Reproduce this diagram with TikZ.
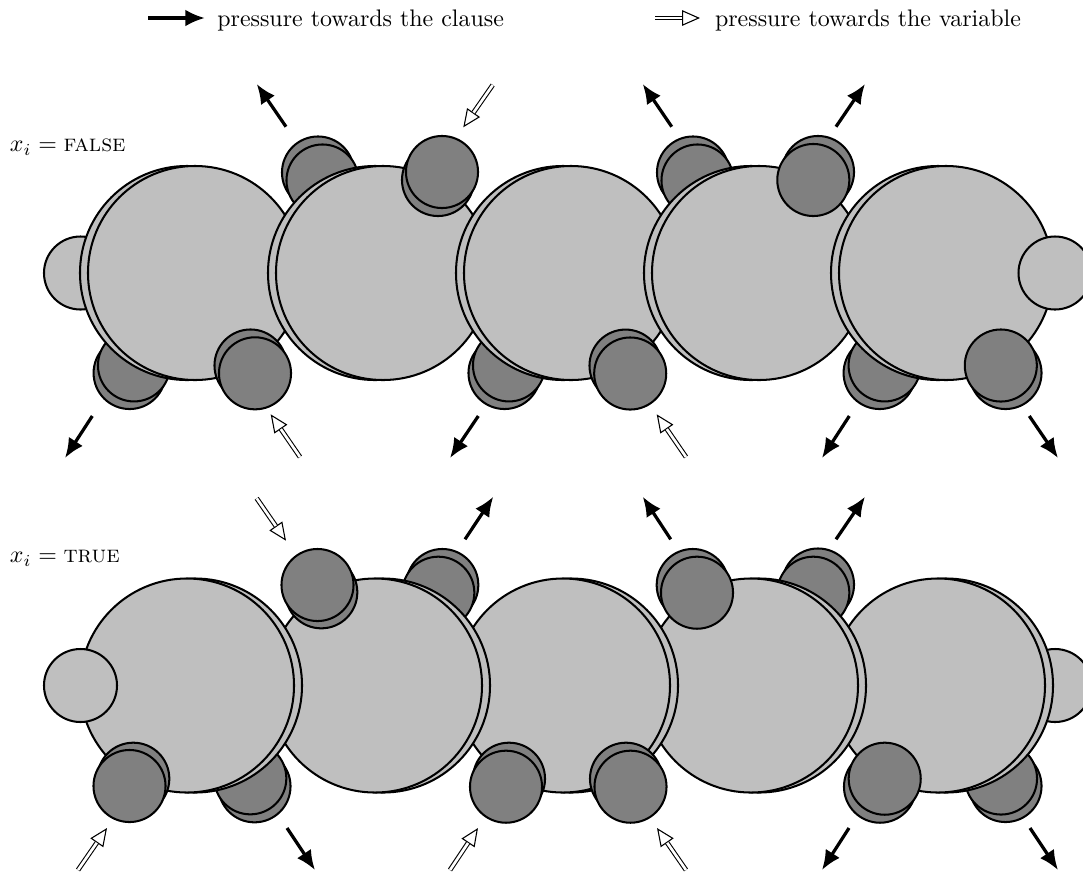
\documentclass[tikz,border=0pt]{standalone}
\usetikzlibrary{arrows.meta,calc}
\begin{document}
\begin{tikzpicture}[x=0.4177pt, y=-0.4177pt,
  every node/.style={inner sep=0pt, outer sep=0pt},
  bigdisk/.style={circle, draw, line width=0.85pt, fill=black!25, minimum size=89.4pt},
  enddisk/.style={circle, draw, line width=0.85pt, fill=black!25, minimum size=30.5pt},
  smalldisk/.style={circle, draw, line width=0.85pt, fill=black!50, minimum size=30.1pt},
  clausearrow/.style={line width=1.35pt, -{Latex[length=8.2pt,width=7pt]}},
  varhead/.style={line width=0.45pt, -{Triangle[open,length=7.5pt,width=6.5pt]}},
  varshaft/.style={line width=0.45pt, double=white, double distance=1.1pt, shorten >=7.5pt},
  label/.style={anchor=base west, font=\normalsize}]
\useasboundingbox (0,0) rectangle (1083,872);

\newcommand\towardsvar[2]{%
  \draw[varhead] (#1) -- (#2);
  \draw[varshaft] (#1) -- (#2);}

% ---------- legend ----------
\coordinate (lgA0) at (148,18);  \coordinate (lgA1) at (205,18);
\draw[clausearrow] (lgA0) -- (lgA1);
\node[label] (lgAt) at (217.3,26) {pressure towards the clause};
\coordinate (lgB0) at (655,18);  \coordinate (lgB1) at (700,18);
\towardsvar{lgB0}{lgB1}
\node[label] (lgBt) at (715,26) {pressure towards the variable};

% ---------- x_i = false : chain drawn from left to right ----------
\node[label] (falsetxt) at (10,151.7) {$x_i = \textsc{false}$};
\node[enddisk] (tL) at (80.5,273) {};
\node[smalldisk] (t1llb) at (129.6,373) {};
\node[smalldisk] (t1ll) at (134,365.4) {};
\node[bigdisk] (t1b) at (187,273) {};
\node[bigdisk] (t1) at (195,273) {};
\node[smalldisk] (t1lrb) at (250.5,365.5) {};
\node[smalldisk] (t1lr) at (255,373.3) {};
\node[smalldisk] (t2ulb) at (318,172.5) {};
\node[smalldisk] (t2ul) at (322.5,180.5) {};
\node[bigdisk] (t2b) at (375,273) {};
\node[bigdisk] (t2) at (383,273) {};
\node[smalldisk] (t2urb) at (438,180) {};
\node[smalldisk] (t2ur) at (442,172) {};
\node[smalldisk] (t3llb) at (504.5,373) {};
\node[smalldisk] (t3ll) at (509,365.4) {};
\node[bigdisk] (t3b) at (563,273) {};
\node[bigdisk] (t3) at (571,273) {};
\node[smalldisk] (t3lrb) at (625.5,365.6) {};
\node[smalldisk] (t3lr) at (630.2,373.5) {};
\node[smalldisk] (t4ulb) at (693,172.5) {};
\node[smalldisk] (t4ul) at (697.5,180.5) {};
\node[bigdisk] (t4b) at (751,273) {};
\node[bigdisk] (t4) at (759,273) {};
\node[smalldisk] (t4urb) at (818,172) {};
\node[smalldisk] (t4ur) at (813.3,180) {};
\node[smalldisk] (t5llb) at (879.6,373) {};
\node[smalldisk] (t5ll) at (884.6,365.4) {};
\node[bigdisk] (t5b) at (938,273) {};
\node[bigdisk] (t5) at (946,273) {};
\node[smalldisk] (t5lrb) at (1005.5,373) {};
\node[smalldisk] (t5lr) at (1000.8,365.5) {};
\node[enddisk] (tR) at (1055,273) {};

% pressure arrows, upper row
\coordinate (ta1s) at (286,126.7);   \coordinate (ta1e) at (256.7,84);
\coordinate (ta2s) at (492.7,85);    \coordinate (ta2e) at (463.3,127.3);
\coordinate (ta3s) at (671.7,126.7); \coordinate (ta3e) at (642.7,84);
\coordinate (ta4s) at (836,126.7);   \coordinate (ta4e) at (865,84);
\coordinate (ta5s) at (92.3,416);    \coordinate (ta5e) at (65,458);
\coordinate (ta6s) at (300,457);     \coordinate (ta6e) at (270.7,414.3);
\coordinate (ta7s) at (478.3,416);   \coordinate (ta7e) at (450,458);
\coordinate (ta8s) at (686,457);     \coordinate (ta8e) at (656.7,414.3);
\coordinate (ta9s) at (849.3,416);   \coordinate (ta9e) at (822,458);
\coordinate (ta10s) at (1029.3,416); \coordinate (ta10e) at (1058,458);
\draw[clausearrow] (ta1s) -- (ta1e);
\towardsvar{ta2s}{ta2e}
\draw[clausearrow] (ta3s) -- (ta3e);
\draw[clausearrow] (ta4s) -- (ta4e);
\draw[clausearrow] (ta5s) -- (ta5e);
\towardsvar{ta6s}{ta6e}
\draw[clausearrow] (ta7s) -- (ta7e);
\towardsvar{ta8s}{ta8e}
\draw[clausearrow] (ta9s) -- (ta9e);
\draw[clausearrow] (ta10s) -- (ta10e);

% ---------- x_i = true : chain drawn from right to left ----------
\node[label] (truetxt) at (10,562.7) {$x_i = \textsc{true}$};
\node[enddisk] (bR) at (1055,685.5) {};
\node[smalldisk] (b5lrb) at (1005.5,786) {};
\node[smalldisk] (b5lr) at (1001,778.5) {};
\node[bigdisk] (b5b) at (946,685.5) {};
\node[bigdisk] (b5) at (938,685.5) {};
\node[smalldisk] (b5llb) at (880,786.7) {};
\node[smalldisk] (b5ll) at (884.7,778.7) {};
\node[smalldisk] (b4urb) at (818,584.5) {};
\node[smalldisk] (b4ur) at (813.3,592.7) {};
\node[bigdisk] (b4b) at (759,685.5) {};
\node[bigdisk] (b4) at (751,685.5) {};
\node[smalldisk] (b4ulb) at (692.7,585) {};
\node[smalldisk] (b4ul) at (697,592.7) {};
\node[bigdisk] (b3b) at (571,685.5) {};
\node[bigdisk] (b3) at (563,685.5) {};
\node[smalldisk] (b3lrb) at (626,778.7) {};
\node[smalldisk] (b3lr) at (630.5,786.7) {};
\node[smalldisk] (b3llb) at (509,778.7) {};
\node[smalldisk] (b3ll) at (506,786.7) {};
\node[smalldisk] (b2urb) at (442.3,585) {};
\node[smalldisk] (b2ur) at (438.3,592.7) {};
\node[bigdisk] (b2b) at (383,685.5) {};
\node[bigdisk] (b2) at (375,685.5) {};
\node[smalldisk] (b2ulb) at (321.3,592.3) {};
\node[smalldisk] (b2ul) at (317.5,585) {};
\node[smalldisk] (b1lrb) at (254.5,786.3) {};
\node[smalldisk] (b1lr) at (250.3,778.3) {};
\node[bigdisk] (b1b) at (195,685.5) {};
\node[bigdisk] (b1) at (187,685.5) {};
\node[smalldisk] (b1llb) at (133.3,778.7) {};
\node[smalldisk] (b1ll) at (129.5,786) {};
\node[enddisk] (bL) at (80.5,685.5) {};

% pressure arrows, lower row
\coordinate (ba1s) at (256.7,498.3); \coordinate (ba1e) at (286,540.7);
\coordinate (ba2s) at (465,539.3);   \coordinate (ba2e) at (493.3,496.7);
\coordinate (ba3s) at (670.7,539.3); \coordinate (ba3e) at (642.7,496.7);
\coordinate (ba4s) at (836,539.3);   \coordinate (ba4e) at (865,496.7);
\coordinate (ba5s) at (78,870);      \coordinate (ba5e) at (107,828);
\coordinate (ba6s) at (287,828);     \coordinate (ba6e) at (315,870);
\coordinate (ba7s) at (450,870);     \coordinate (ba7e) at (478,828);
\coordinate (ba8s) at (686,870);     \coordinate (ba8e) at (657,828);
\coordinate (ba9s) at (849,828);     \coordinate (ba9e) at (822,870);
\coordinate (ba10s) at (1030,828);   \coordinate (ba10e) at (1058,870);
\towardsvar{ba1s}{ba1e}
\draw[clausearrow] (ba2s) -- (ba2e);
\draw[clausearrow] (ba3s) -- (ba3e);
\draw[clausearrow] (ba4s) -- (ba4e);
\towardsvar{ba5s}{ba5e}
\draw[clausearrow] (ba6s) -- (ba6e);
\towardsvar{ba7s}{ba7e}
\towardsvar{ba8s}{ba8e}
\draw[clausearrow] (ba9s) -- (ba9e);
\draw[clausearrow] (ba10s) -- (ba10e);
\end{tikzpicture}
\end{document}
